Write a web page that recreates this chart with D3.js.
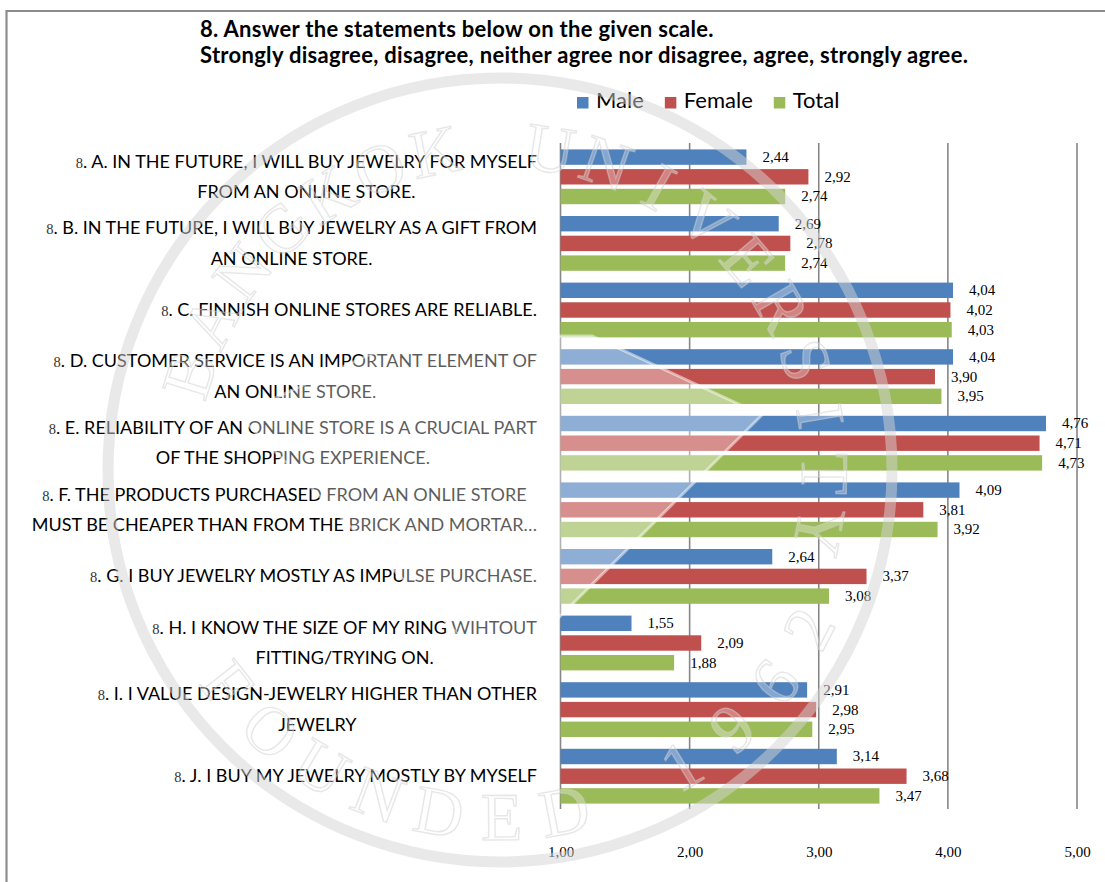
<!DOCTYPE html>
<html>
<head>
<meta charset="utf-8">
<script src="https://cdn.jsdelivr.net/npm/d3@7"></script>
<style>
  html, body { margin: 0; padding: 0; background: #fff; }
  svg { display: block; }
</style>
</head>
<body>
<svg id="chart" width="1105" height="882"></svg>
<script>
// Statements (category labels, split into display lines)
const categories = ["A", "B", "C", "D", "E", "F", "G", "H", "I", "J"];
const categoryLines = [
  ["A. IN THE FUTURE, I WILL BUY JEWELRY FOR MYSELF", "FROM AN ONLINE STORE."],
  ["B. IN THE FUTURE, I WILL BUY JEWELRY AS A GIFT FROM", "AN ONLINE STORE."],
  ["C. FINNISH ONLINE STORES ARE RELIABLE."],
  ["D. CUSTOMER SERVICE IS AN IMPORTANT ELEMENT OF", "AN ONLINE STORE."],
  ["E. RELIABILITY OF AN ONLINE STORE IS A CRUCIAL PART", "OF THE SHOPPING EXPERIENCE."],
  ["F. THE PRODUCTS PURCHASED FROM AN ONLIE STORE", "MUST BE CHEAPER THAN FROM THE BRICK AND MORTAR\u2026"],
  ["G. I BUY JEWELRY MOSTLY AS IMPULSE PURCHASE."],
  ["H. I KNOW THE SIZE OF MY RING WIHTOUT", "FITTING/TRYING ON."],
  ["I. I VALUE DESIGN-JEWELRY HIGHER THAN OTHER", "JEWELRY"],
  ["J. I BUY MY JEWELRY MOSTLY BY MYSELF"]
];
const questionNo = "8";

// Mean scores per group
const seriesNames = ["Male", "Female", "Total"];
const maleValues   = [2.44, 2.69, 4.04, 4.04, 4.76, 4.09, 2.64, 1.55, 2.91, 3.14];
const femaleValues = [2.92, 2.78, 4.02, 3.90, 4.71, 3.81, 3.37, 2.09, 2.98, 3.68];
const totalValues  = [2.74, 2.74, 4.03, 3.95, 4.73, 3.92, 3.08, 1.88, 2.95, 3.47];
const seriesColors = ["#4F81BD", "#C0504D", "#9BBB59"];

const tickValues = [1, 2, 3, 4, 5];
const titleLines = [
  "8. Answer the statements below on the given scale.",
  "Strongly disagree, disagree, neither agree nor disagree, agree, strongly agree."
];

// Seal texts printed faintly over the chart
const sealTop = "BANGKOK UNIVERSITY";
const sealBottom = "FOUNDED 1962";

const seriesValues = [maleValues, femaleValues, totalValues];
const fmt = v => d3.format(".2f")(v).replace(".", ",");

const svg = d3.select("#chart");

// Frame lines along the top and left edge
svg.append("line").attr("x1", 6).attr("x2", 1105).attr("y1", 11).attr("y2", 11)
  .attr("stroke", "#8c8c8c").attr("stroke-width", 2.2);
svg.append("line").attr("x1", 6.5).attr("x2", 6.5).attr("y1", 10).attr("y2", 882)
  .attr("stroke", "#8c8c8c").attr("stroke-width", 2.2);

// Title
const title = svg.append("g").attr("font-family", "Lato, 'Open Sans', sans-serif")
  .attr("font-weight", "bold").attr("font-size", 22).attr("letter-spacing", 0.3).attr("fill", "#000");
title.selectAll("text").data(titleLines).join("text")
  .attr("x", 200).attr("y", (d, i) => 36.5 + i * 26.5).text(d => d);

// Scales
const plotTop = 143, plotBottom = 809;
const x = d3.scaleLinear().domain([1, 5]).range([560.5, 1077]);
const y = d3.scaleBand().domain(categories).range([plotTop, plotBottom]).paddingInner(0).paddingOuter(0);
const ySeries = d3.scaleBand().domain(seriesNames).range([6.4, 61.2]).paddingInner(0.218).paddingOuter(0);

// Gridlines
svg.append("g").selectAll("line").data(tickValues).join("line")
  .attr("x1", d => x(d)).attr("x2", d => x(d))
  .attr("y1", plotTop).attr("y2", plotBottom)
  .attr("stroke", "#868686").attr("stroke-width", 1.6);

// Axis tick labels
const xAxis = d3.axisBottom(x).tickValues(tickValues).tickSize(0).tickPadding(0).tickFormat(fmt);
const axisG = svg.append("g").attr("transform", "translate(0,845)").call(xAxis);
axisG.select(".domain").remove();
axisG.selectAll("text").attr("font-family", "'Liberation Serif', 'Times New Roman', serif")
  .attr("font-size", 15).attr("fill", "#000").attr("dy", "0.8em");

// Bars
const groups = svg.append("g").selectAll("g").data(categories).join("g")
  .attr("transform", d => `translate(0,${y(d)})`);

groups.each(function(cat, ci) {
  const g = d3.select(this);
  seriesNames.forEach((s, si) => {
    const v = seriesValues[si][ci];
    g.append("rect")
      .attr("x", x(1)).attr("y", ySeries(s))
      .attr("width", x(v) - x(1)).attr("height", ySeries.bandwidth())
      .attr("fill", seriesColors[si]);
    g.append("text")
      .attr("x", x(v) + 16).attr("y", ySeries(s) + ySeries.bandwidth() / 2 + 5)
      .attr("font-family", "'Liberation Serif', 'Times New Roman', serif")
      .attr("font-size", 15).attr("fill", "#000")
      .text(fmt(v));
  });
});

// Category labels: lines centred on each other, block right-aligned to the axis
const labelRight = 537;
const labelG = svg.append("g").attr("font-family", "Lato, 'Open Sans', sans-serif")
  .attr("font-size", 18).attr("fill", "#000");
categories.forEach((cat, ci) => {
  const lines = categoryLines[ci];
  const cy = y(cat) + y.bandwidth() / 2;
  const lh = 30.5;
  const texts = lines.map((ln, li) => {
    const t = labelG.append("text")
      .attr("y", cy + (li - (lines.length - 1) / 2) * lh + 6.5)
      .attr("text-anchor", "middle");
    if (li === 0) {
      t.append("tspan").attr("font-family", "'Liberation Serif', 'Times New Roman', serif")
        .attr("font-size", 14.5).attr("fill", "#333").text(questionNo);
      t.append("tspan").text(". " + ln);
    } else {
      t.text(ln);
    }
    return t;
  });
  const maxW = d3.max(texts, t => t.node().getComputedTextLength());
  texts.forEach(t => t.attr("x", labelRight - maxW / 2));
});

// Legend
const legend = svg.append("g").attr("font-family", "Lato, 'Open Sans', sans-serif")
  .attr("font-size", 22).attr("fill", "#000");
let lx = 577;
seriesNames.forEach((s, si) => {
  legend.append("rect").attr("x", lx).attr("y", 97).attr("width", 11.5).attr("height", 11.5)
    .attr("fill", seriesColors[si]);
  const t = legend.append("text").attr("x", lx + 19).attr("y", 108).text(s);
  lx += 19 + t.node().getComputedTextLength() + 21;
});

// Faint university seal laid over the chart
const cx = 500, cy0 = 470;
const wm = svg.append("g").attr("pointer-events", "none");
const rad = a => a * Math.PI / 180;
const pt = (r, a) => [cx + r * Math.cos(rad(a)), cy0 + r * Math.sin(rad(a))];

// gem outline in the middle of the seal
const gem = [[410, 336], [592, 336], [762, 415], [500, 676], [238, 415]];
wm.append("path").attr("d", d3.line()(gem) + "Z")
  .attr("fill", "#fff").attr("fill-opacity", 0.36)
  .attr("stroke", "#fff").attr("stroke-opacity", 0.5).attr("stroke-width", 3);

// outer ring
wm.append("circle").attr("cx", cx).attr("cy", cy0).attr("r", 392)
  .attr("fill", "none").attr("stroke", "#d4d4d4").attr("stroke-opacity", 0.5)
  .attr("stroke-width", 11);

// lettering, one glyph at a time around the ring
function sealLetters(str, r, a0, a1, flip) {
  const chars = Array.from(str);
  const step = (a1 - a0) / chars.length;
  chars.forEach((ch, i) => {
    if (ch === " ") return;
    const a = a0 + (i + 0.5) * step;
    const [px, py] = pt(r, a);
    wm.append("text")
      .attr("transform", `translate(${px},${py}) rotate(${flip ? a - 90 : a + 90})`)
      .attr("text-anchor", "middle")
      .attr("font-family", "'Liberation Serif', 'Times New Roman', serif")
      .attr("font-size", 68)
      .attr("fill", "#fff").attr("fill-opacity", 0.3)
      .attr("stroke", "#cfcfcf").attr("stroke-opacity", 0.5).attr("stroke-width", 1.4)
      .text(ch);
  });
}
sealLetters(sealTop, 302, -168, 16, false);
sealLetters(sealBottom, 370, 147, 22, true);
</script>
</body>
</html>
